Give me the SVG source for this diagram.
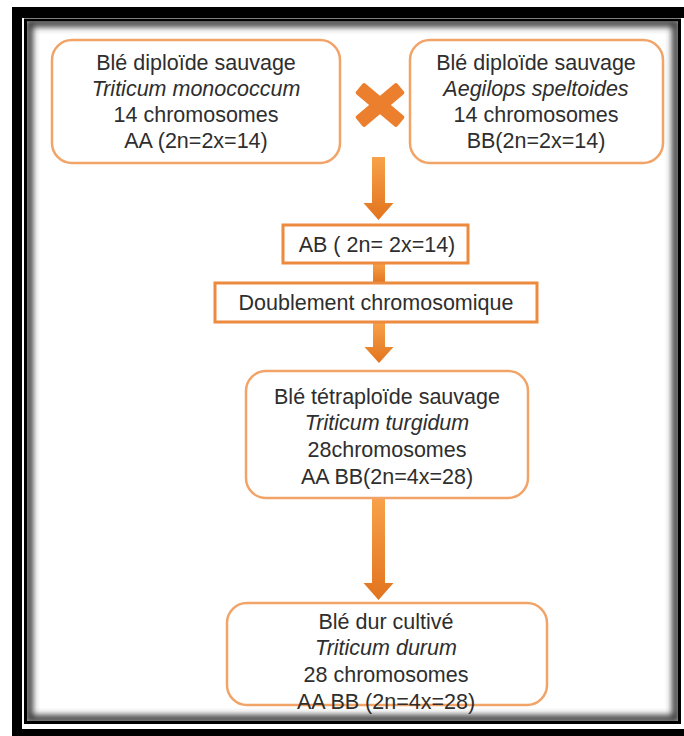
<svg xmlns="http://www.w3.org/2000/svg" width="684" height="736" viewBox="0 0 684 736">
  <style>
    .t { font-family: "Liberation Sans", Arial, sans-serif; font-size: 21.5px; fill: #2e2e2e; text-anchor: middle; }
    .i { font-style: italic; }
    .rb { fill: #ffffff; stroke: #F2A468; stroke-width: 2.5; }
    .sb { fill: #ffffff; stroke: #EC8A3E; stroke-width: 3; }
    .arr { fill: url(#ag); }
  </style>
  <defs>
    <linearGradient id="ag" x1="0" y1="0" x2="0" y2="1">
      <stop offset="0" stop-color="#F7A24A"/>
      <stop offset="1" stop-color="#E2731E"/>
    </linearGradient>
    <filter id="blur" x="-5%" y="-5%" width="110%" height="110%">
      <feGaussianBlur stdDeviation="3"/>
    </filter>
    <clipPath id="inner">
      <rect x="27" y="21" width="651" height="700"/>
    </clipPath>
  </defs>

  <!-- frame -->
  <g id="frame">
    <rect x="0" y="0" width="684" height="736" fill="#ffffff"/>
    <path d="M12,7 H684 V736 H12 Z M22,18 V729 H684 V18 Z" fill="#000000" fill-rule="evenodd"/>
    <rect x="25.5" y="20" width="654" height="702.5" fill="none" stroke="#000" stroke-width="3"/>
    <rect x="27" y="21.5" width="651" height="699.5" fill="#ffffff"/>
    <g clip-path="url(#inner)">
      <rect x="29" y="23" width="647" height="696" fill="none" stroke="#3a3a3a" stroke-width="8" filter="url(#blur)"/>
    </g>
  </g>

  <!-- connectors -->
  <g id="connectors">
    <path class="arr" d="M372,157 H385 V203 H393.5 L378.5,220 L363.5,203 H372 Z"/>
    <rect class="arr" x="373" y="262" width="12" height="22"/>
    <path class="arr" d="M373,322 H385 V347 H393.5 L379,363 L364.5,347 H373 Z"/>
    <path class="arr" d="M372,498 H385 V583 H393.5 L378.5,600 L363.5,583 H372 Z"/>
  </g>

  <g id="cross">
    <g transform="translate(380,105)" fill="#EC7F2E">
      <rect x="-27" y="-7" width="54" height="14" rx="2" transform="rotate(40)"/>
      <rect x="-27" y="-7" width="54" height="14" rx="2" transform="rotate(-40)"/>
    </g>
  </g>

  <g id="n1">
    <rect class="rb" x="52" y="40" width="288" height="123" rx="20"/>
    <text class="t" x="196" y="70">Blé diploïde sauvage</text>
    <text class="t i" x="196" y="96">Triticum monococcum</text>
    <text class="t" x="196" y="122">14 chromosomes</text>
    <text class="t" x="196" y="148">AA (2n=2x=14)</text>
  </g>

  <g id="n2">
    <rect class="rb" x="410" y="40" width="253" height="123" rx="20"/>
    <text class="t" x="536" y="70">Blé diploïde sauvage</text>
    <text class="t i" x="536" y="96">Aegilops speltoides</text>
    <text class="t" x="536" y="122">14 chromosomes</text>
    <text class="t" x="536" y="148">BB(2n=2x=14)</text>
  </g>

  <g id="n3">
    <rect class="sb" x="283" y="225" width="185" height="38"/>
    <text class="t" x="377" y="252">AB ( 2n= 2x=14)</text>
  </g>

  <g id="n4">
    <rect class="sb" x="215" y="283" width="322" height="39"/>
    <text class="t" x="376" y="310">Doublement chromosomique</text>
  </g>

  <g id="n5">
    <rect class="rb" x="246" y="371" width="282" height="127" rx="20"/>
    <text class="t" x="387" y="404">Blé tétraploïde sauvage</text>
    <text class="t i" x="387" y="430">Triticum turgidum</text>
    <text class="t" x="387" y="457">28chromosomes</text>
    <text class="t" x="387" y="484">AA BB(2n=4x=28)</text>
  </g>

  <g id="n6">
    <rect class="rb" x="227" y="603" width="320" height="102" rx="20"/>
    <text class="t" x="386" y="629">Blé dur cultivé</text>
    <text class="t i" x="386" y="655">Triticum durum</text>
    <text class="t" x="386" y="682">28 chromosomes</text>
    <text class="t" x="386" y="709">AA BB (2n=4x=28)</text>
  </g>
</svg>
